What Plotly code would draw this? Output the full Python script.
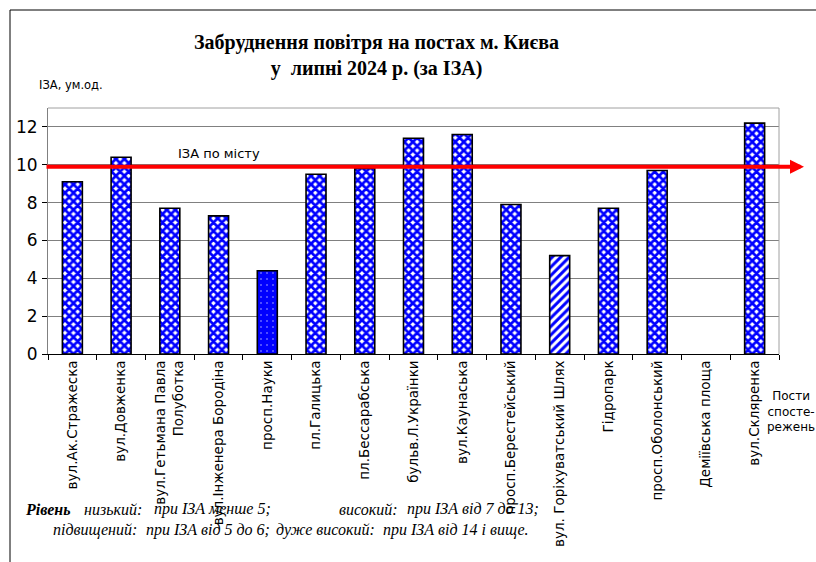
import plotly.graph_objects as go

# ---- data ----
posts = [
    "вул.Ак.Стражеска",
    "вул.Довженка",
    "вул.Гетьмана Павла<br>Полуботка",
    "вул.Інженера Бородіна",
    "просп.Науки",
    "пл.Галицька",
    "пл.Бессарабська",
    "бульв.Л.Українки",
    "вул.Каунаська",
    "просп.Берестейський",
    "вул. Горіхуватський Шлях",
    "Гідропарк",
    "просп.Оболонський",
    "Деміївська площа",
    "вул.Скляренка",
]
iza = [9.1, 10.4, 7.7, 7.3, 4.4, 9.5, 9.8, 11.4, 11.6, 7.9, 5.2, 7.7, 9.7, None, 12.2]
city_iza = 9.9
y_ticks = [0, 2, 4, 6, 8, 10, 12]

title_lines = ["Забруднення повітря на постах м. Києва", "у  липні 2024 р. (за ІЗА)"]

# ---- layout geometry (pixels) ----
W, H = 816, 562
L, R, T, B = 48, 779, 108, 354


def px(x):
    return (x - L) / (R - L)


def py(y):
    return (B - y) / (B - T)


SANS = "DejaVu Sans, Arial"
SERIF = "Liberation Serif, Times New Roman, serif"

# pattern per pollution level
shapes_p, fg, bg, sol, sz = [], [], [], [], []
for v in iza:
    if v is None or v >= 7:
        shapes_p.append("x"); fg.append("#0000ff"); bg.append("#ffffff"); sol.append(0.7); sz.append(6)
    elif v >= 5:
        shapes_p.append("/"); fg.append("#0000ff"); bg.append("#ffffff"); sol.append(0.5); sz.append(6)
    else:
        shapes_p.append("."); fg.append("#b0b0ff"); bg.append("#0000ff"); sol.append(0.06); sz.append(6)

fig = go.Figure()
fig.add_trace(go.Bar(
    x=posts, y=iza, width=0.41,
    marker=dict(
        color="#ffffff",
        line=dict(color="#000000", width=1.6),
        pattern=dict(shape=shapes_p, fgcolor=fg, bgcolor=bg, solidity=sol, size=sz, fillmode="replace"),
    ),
    hoverinfo="x+y",
))

ann = []
ann.append(dict(text="<b>" + title_lines[0] + "<br>" + title_lines[1] + "</b>",
                x=px(376), y=py(56), xref="paper", yref="paper", showarrow=False,
                font=dict(family=SERIF, size=20, color="#000"),
                xanchor="center", yanchor="middle"))
ann.append(dict(text="ІЗА, ум.од.", x=px(37), y=py(85), xref="paper", yref="paper", showarrow=False,
                font=dict(family=SANS, size=11.5, color="#000"), xanchor="left", yanchor="middle"))
ann.append(dict(text="ІЗА по місту", x=px(219), y=py(153), xref="paper", yref="paper", showarrow=False,
                font=dict(family=SANS, size=13, color="#000"), xanchor="center", yanchor="middle"))
ann.append(dict(text="Пости<br>спосте-<br>режень", x=px(791), y=py(411), xref="paper", yref="paper", showarrow=False,
                font=dict(family=SANS, size=12, color="#000"), xanchor="center", yanchor="middle"))
# city average arrow
ann.append(dict(text="", x=px(804), y=city_iza, xref="paper", yref="y", showarrow=True,
                ax=-(804 - 45), ay=0, axref="pixel", ayref="pixel",
                arrowcolor="#ff0000", arrowwidth=4, arrowhead=2, arrowsize=0.7, standoff=0))

foot = [
    ("<b><i>Рівень</i></b>", 23, 509),
    ("<i>низький:</i>", 82, 509),
    ("<i>при ІЗА менше 5;</i>", 152, 509),
    ("<i>високий:</i>", 337, 509),
    ("<i>при ІЗА від 7 до 13;</i>", 405, 509),
    ("<i>підвищений:</i>", 51, 530),
    ("<i>при ІЗА від 5 до 6;</i>", 144, 530),
    ("<i>дуже високий:</i>", 274, 530),
    ("<i>при ІЗА від 14 і вище.</i>", 381, 530),
]
for t, x, y in foot:
    ann.append(dict(text=t, x=px(x), y=py(y), xref="paper", yref="paper", showarrow=False,
                    font=dict(family=SERIF, size=16, color="#000"), xanchor="left", yanchor="middle"))

frame = [
    dict(type="line", xref="paper", yref="paper", x0=px(10), x1=px(820), y0=py(10), y1=py(10),
         line=dict(color="#000", width=1)),
    dict(type="line", xref="paper", yref="paper", x0=px(10), x1=px(10), y0=py(10), y1=py(565),
         line=dict(color="#000", width=1)),
    dict(type="line", xref="paper", yref="paper", x0=0, x1=1, y0=1, y1=1,
         line=dict(color="#a0a0a0", width=1)),
    dict(type="line", xref="paper", yref="paper", x0=1, x1=1, y0=0, y1=1,
         line=dict(color="#a0a0a0", width=1)),
]

fig.update_layout(
    width=W, height=H,
    margin=dict(l=L, r=W - R, t=T, b=H - B, autoexpand=False),
    paper_bgcolor="#ffffff", plot_bgcolor="#ffffff",
    showlegend=False,
    annotations=ann, shapes=frame,
    font=dict(family=SANS, color="#000"),
)
fig.update_xaxes(
    type="category", tickangle=-90, tickson="boundaries", ticks="outside", ticklen=5,
    tickcolor="#000", showline=True, linecolor="#000", linewidth=1, showgrid=False,
    tickfont=dict(family=SANS, size=13.5, color="#000"), range=[-0.5, len(posts) - 0.5],
)
fig.update_yaxes(
    range=[0, 13], tickvals=y_ticks, ticks="outside", ticklen=5, tickcolor="#000",
    showline=True, linecolor="#808080", linewidth=1, showgrid=True, gridcolor="#808080", gridwidth=1,
    zeroline=False, tickfont=dict(family=SANS, size=17, color="#000"), ticklabelstandoff=1,
)

fig.write_html("out.html", config={"displayModeBar": False},
               post_script="document.body.style.margin='0';document.body.style.overflow='hidden';")
